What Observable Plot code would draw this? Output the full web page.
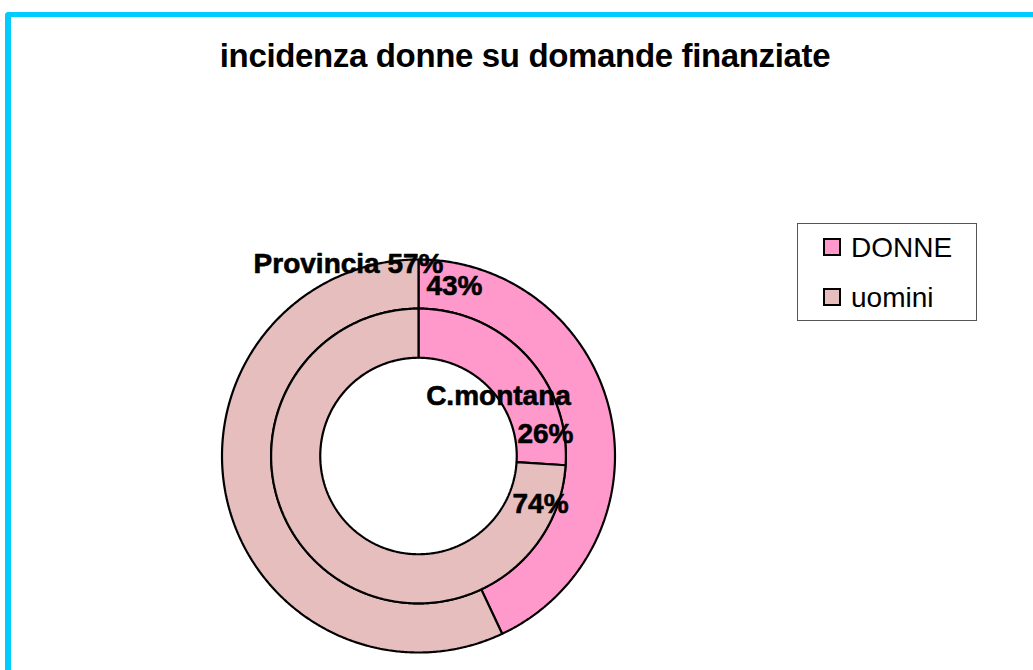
<!DOCTYPE html>
<html>
<head>
<meta charset="utf-8">
<script src="https://cdn.jsdelivr.net/npm/d3@7"></script>
<script src="https://cdn.jsdelivr.net/npm/@observablehq/plot@0.6"></script>
<style>
  html, body { margin: 0; padding: 0; background: #fff; }
  #page { position: relative; width: 1033px; height: 670px; overflow: hidden; font-family: "Liberation Sans", Arial, sans-serif; }
  #frame { position: absolute; left: 5px; top: 12px; width: 1100px; height: 800px; border-left: 6px solid #00CCFF; border-top: 5px solid #00CCFF; border-top-left-radius: 4px; box-sizing: border-box; }
  #title { position: absolute; left: 0; width: 1050px; top: 37px; text-align: center; font-weight: bold; font-size: 33px; color: #000; letter-spacing: -0.35px; }
  #chart { position: absolute; left: 0; top: 0; }
  #legend { position: absolute; left: 797px; top: 223px; width: 180px; height: 98px; border: 1px solid #555; box-sizing: border-box; background: #fff; }
  .item { position: absolute; left: 26px; font-size: 28px; line-height: 28px; color: #000; }
  .sw { position: absolute; left: -1px; top: 4px; width: 18px; height: 18px; border: 2.5px solid #000; box-sizing: border-box; }
  .lab { position: absolute; left: 27px; top: 0; white-space: nowrap; }
</style>
</head>
<body>
<div id="page">
  <div id="frame"></div>
  <div id="chart"></div>
  <div id="title"></div>
  <div id="legend"></div>
</div>
<script>
// ---- data ----
const chartTitle = "incidenza donne su domande finanziate";
const categories = ["DONNE", "uomini"];
const ringNames = ["Provincia", "C.montana"];     // outer ring, inner ring
const provinciaValues = [43, 57];                  // % DONNE, % uomini
const cmontanaValues = [26, 74];                   // % DONNE, % uomini
const colors = ["#FF99CC", "#E6BEBE"];

// ---- geometry (unit circle) ----
const ringRadii = [[0.75, 1.0], [0.5, 0.75]];      // [inner, outer] per ring
const ringValues = [provinciaValues, cmontanaValues];

const pts = [];
ringValues.forEach((vals, ri) => {
  const total = d3.sum(vals);
  let acc = 0;
  vals.forEach((v, ci) => {
    const a0 = acc / total * 2 * Math.PI;
    const a1 = (acc + v) / total * 2 * Math.PI;
    acc += v;
    const [r0, r1] = ringRadii[ri];
    const id = ringNames[ri] + "-" + categories[ci];
    const n = Math.max(4, Math.ceil((a1 - a0) / (Math.PI / 360)));
    const poly = [];
    for (let i = 0; i <= n; i++) { const a = a0 + (a1 - a0) * i / n; poly.push([r1 * Math.sin(a), r1 * Math.cos(a)]); }
    for (let i = n; i >= 0; i--) { const a = a0 + (a1 - a0) * i / n; poly.push([r0 * Math.sin(a), r0 * Math.cos(a)]); }
    poly.push(poly[0]);
    poly.forEach(([x, y]) => pts.push({id, cat: categories[ci], x, y}));
  });
});

// data labels (Excel-style placement, unit coordinates)
const labels = [
  {text: `${ringNames[0]} ${provinciaValues[1]}%`, x: -0.356, y: 0.975},
  {text: `${provinciaValues[0]}%`, x: 0.183, y: 0.865},
  {text: ringNames[1], x: 0.407, y: 0.305},
  {text: `${cmontanaValues[0]}%`, x: 0.646, y: 0.112},
  {text: `${cmontanaValues[1]}%`, x: 0.621, y: -0.245}
];

const cx = 418, cy = 455.5, R = 196.5;
const plot = Plot.plot({
  width: 1033, height: 670,
  margin: 0,
  x: {domain: [-1, 1], range: [cx - R, cx + R], axis: null},
  y: {domain: [-1, 1], range: [cy + R, cy - R], axis: null},
  color: {domain: categories, range: colors},
  style: {background: "transparent", overflow: "visible"},
  marks: [
    Plot.line(pts, {x: "x", y: "y", z: "id", fill: "cat", stroke: "#000", strokeWidth: 2.2, strokeLinejoin: "miter", curve: "linear"}),
    Plot.text(labels, {x: "x", y: "y", text: "text", fontSize: 28, fontWeight: "bold", fill: "#000",
      stroke: "#000", strokeWidth: 0.6, fontFamily: "Liberation Sans, Arial, sans-serif", textAnchor: "middle", lineAnchor: "middle"})
  ]
});
document.getElementById("chart").appendChild(plot);
document.getElementById("title").textContent = chartTitle;

const leg = document.getElementById("legend");
categories.forEach((c, i) => {
  const it = document.createElement("div");
  it.className = "item";
  it.style.top = (10 + i * 50) + "px";
  it.innerHTML = `<span class="sw" style="background:${colors[i]}"></span><span class="lab">${c}</span>`;
  leg.appendChild(it);
});
</script>
</body>
</html>
